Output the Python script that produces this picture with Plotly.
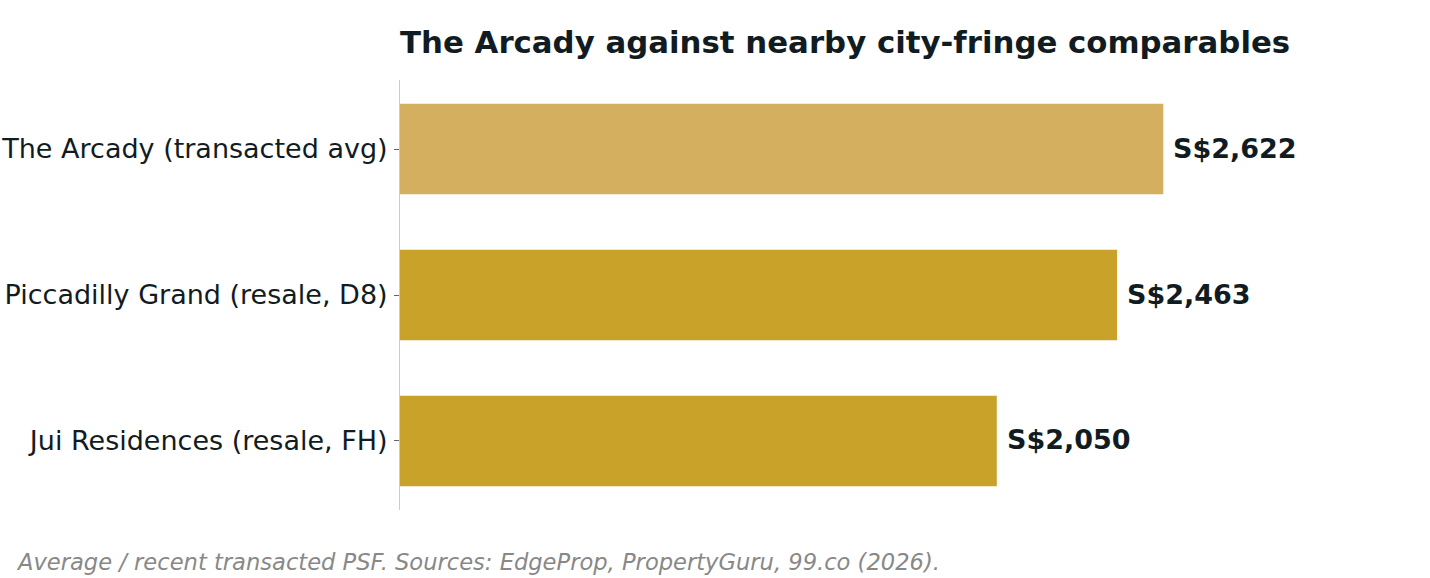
import plotly.graph_objects as go

categories = ["The Arcady (transacted avg)", "Piccadilly Grand (resale, D8)", "Jui Residences (resale, FH)"]
psf_values = [2622, 2463, 2050]
bar_colors = ["#D4AF5F", "#C9A22A", "#C9A22A"]
value_labels = ["S$2,622", "S$2,463", "S$2,050"]

TEXT = "#111C22"
FONT = "DejaVu Sans"

fig = go.Figure()
fig.add_trace(go.Bar(
    x=psf_values, y=categories, orientation="h",
    marker=dict(color=bar_colors, line=dict(width=0)),
    width=0.62, hoverinfo="skip",
))

for cat, val, lab in zip(categories, psf_values, value_labels):
    fig.add_annotation(x=val, y=cat, xref="x", yref="y", text=lab,
                       showarrow=False, xanchor="left", yanchor="middle", xshift=8, yshift=1,
                       font=dict(family=FONT, size=27, color=TEXT, weight="bold"))

W, H = 1430, 578
L, R, T, B = 400, 39, 80, 68
pw = W - L - R
ph = H - T - B

fig.add_annotation(xref="paper", yref="paper", x=(14 - L) / pw, y=-(562 - (H - B)) / ph,
                   xanchor="left", yanchor="middle", showarrow=False,
                   text="<i>Average / recent transacted PSF. Sources: EdgeProp, PropertyGuru, 99.co (2026).</i>",
                   font=dict(family=FONT, size=22.6, color="#888888"))

fig.update_layout(
    width=W, height=H,
    margin=dict(l=L, r=R, t=T, b=B, autoexpand=False),
    paper_bgcolor="white", plot_bgcolor="white",
    showlegend=False,
    title=dict(text="<b>The Arcady against nearby city-fringe comparables</b>",
               x=0, xref="paper", xanchor="left", y=1 - 42 / H, yanchor="middle",
               font=dict(family=FONT, size=30.8, color=TEXT)),
    xaxis=dict(range=[0, 3404], visible=False, automargin=False),
    yaxis=dict(categoryorder="array", categoryarray=categories, automargin=False,
               range=[2.473, -0.473], showline=True, linecolor="#CCCCCC", linewidth=1,
               ticks="outside", ticklen=5, tickcolor="#666666", showgrid=False,
               zeroline=False, ticklabelstandoff=1,
               tickfont=dict(family=FONT, size=27, color=TEXT)),
)

fig.write_html("out.html")
